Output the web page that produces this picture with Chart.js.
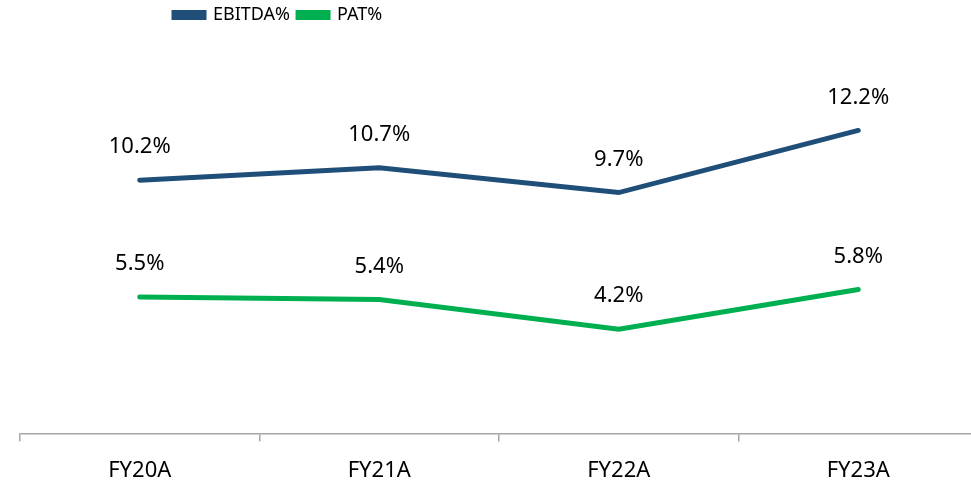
<!DOCTYPE html>
<html>
<head>
<meta charset="utf-8">
<script src="https://cdn.jsdelivr.net/npm/chart.js@4"></script>
<style>
  html, body { margin: 0; padding: 0; background: #fff; overflow: hidden; }
  #wrap { position: relative; width: 980px; height: 500px; }
</style>
</head>
<body>
<div id="wrap"><canvas id="margin-chart"></canvas></div>
<script>
// 年度
var years = ['FY20A', 'FY21A', 'FY22A', 'FY23A'];
// EBITDA率 (%)
var ebitda = [10.2, 10.7, 9.7, 12.2];
// 純利益率 (%)
var pat = [5.5, 5.4, 4.2, 5.8];

var blue = '#1F4E79';
var green = '#00B050';
var fontName = '"Noto Sans", "Liberation Sans", sans-serif';

// 点の上に値を書く
var valueLabels = {
    id: 'valueLabels',
    afterDatasetsDraw: function(chart) {
        var ctx = chart.ctx;
        ctx.save();
        ctx.font = '22px ' + fontName;
        ctx.fillStyle = '#000';
        ctx.textAlign = 'center';
        ctx.textBaseline = 'middle';
        chart.data.datasets.forEach(function(ds, i) {
            chart.getDatasetMeta(i).data.forEach(function(pt, j) {
                ctx.fillText(ds.data[j].toFixed(1) + '%', pt.x, pt.y - 33);
            });
        });
        ctx.restore();
    }
};

// 凡例を左寄り・少し上に置く
var legendShift = {
    id: 'legendShift',
    beforeDraw: function(chart) {
        chart.legend.left = 166;
        chart.legend.top = -2;
    }
};

new Chart(document.getElementById('margin-chart'), {
    type: 'line',
    data: {
        labels: years,
        datasets: [
            {
                label: 'EBITDA%',
                data: ebitda,
                borderColor: blue,
                backgroundColor: blue,
                borderWidth: 5,
                borderCapStyle: 'round',
                pointRadius: 0,
                tension: 0
            },
            {
                label: 'PAT%',
                data: pat,
                borderColor: green,
                backgroundColor: green,
                borderWidth: 5,
                borderCapStyle: 'round',
                pointRadius: 0,
                tension: 0
            }
        ]
    },
    options: {
        responsive: true,
        maintainAspectRatio: false,
        animation: false,
        layout: { padding: { left: 20, right: 2, top: 0, bottom: 0 } },
        plugins: {
            legend: {
                position: 'top',
                align: 'start',
                labels: {
                    boxWidth: 30,
                    boxHeight: 5,
                    padding: 8,
                    color: '#000',
                    font: { family: fontName, size: 18 }
                }
            },
            tooltip: { enabled: false }
        },
        scales: {
            x: {
                offset: true,
                grid: {
                    offset: true,
                    drawOnChartArea: false,
                    tickLength: 8,
                    color: '#A6A6A6',
                    lineWidth: 1.5
                },
                border: { color: '#A6A6A6', width: 1.5 },
                ticks: {
                    padding: 16,
                    color: '#000',
                    font: { family: fontName, size: 22 }
                }
            },
            y: {
                display: false,
                min: 0,
                max: 16
            }
        }
    },
    plugins: [valueLabels, legendShift]
});
</script>
</body>
</html>
